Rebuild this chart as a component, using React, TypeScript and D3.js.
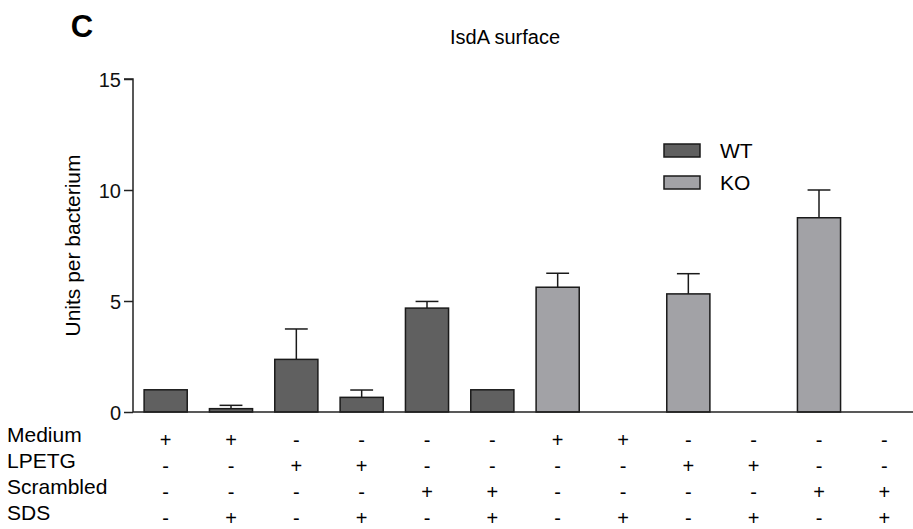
import React, { useRef, useEffect } from "react";
import { select, scaleLinear, scaleBand, axisLeft } from "d3";

const strains = ["WT", "WT", "WT", "WT", "WT", "WT", "KO", "KO", "KO", "KO", "KO", "KO"];
const means = [1.0, 0.15, 2.37, 0.66, 4.68, 1.0, 5.62, 0, 5.32, 0, 8.75, 0];
const sems = [0, 0.15, 1.37, 0.33, 0.3, 0, 0.63, 0, 0.91, 0, 1.25, 0];

const rowLabels = ["Medium", "LPETG", "Scrambled", "SDS"];
const medium = ["+", "+", "-", "-", "-", "-", "+", "+", "-", "-", "-", "-"];
const lpetg = ["-", "-", "+", "+", "-", "-", "-", "-", "+", "+", "-", "-"];
const scrambled = ["-", "-", "-", "-", "+", "+", "-", "-", "-", "-", "+", "+"];
const sds = ["-", "+", "-", "+", "-", "+", "-", "+", "-", "+", "-", "+"];

const yTicks = [0, 5, 10, 15];
const legendItems = ["WT", "KO"];

const colors = { WT: "#606060", KO: "#a2a2a6" };
const font = "'Liberation Sans', Arial, sans-serif";

function App() {
    const svgRef = useRef(null);

    useEffect(() => {
        const svg = select(svgRef.current);
        svg.selectAll("*").remove();

        const xScale = scaleBand()
            .domain(means.map((d, i) => i))
            .range([133, 917])
            .paddingInner(0.34)
            .paddingOuter(0.17);

        const yScale = scaleLinear().domain([0, 15]).range([412, 79]);

        const bars = means.map((m, i) => ({ i, m, e: sems[i], strain: strains[i] }));

        // title and panel letter
        svg.append("text")
            .attr("x", 82).attr("y", 37)
            .attr("text-anchor", "middle")
            .attr("font-family", font).attr("font-weight", "bold")
            .attr("font-size", 31)
            .text("C");

        svg.append("text")
            .attr("x", 505).attr("y", 44)
            .attr("text-anchor", "middle")
            .attr("font-family", font).attr("font-size", 20)
            .text("IsdA surface");

        // y axis
        const yAxis = axisLeft(yScale).tickValues(yTicks).tickSize(9).tickPadding(3);
        const gy = svg.append("g")
            .attr("transform", "translate(133,0)")
            .call(yAxis);
        gy.select(".domain").attr("stroke", "#222").attr("stroke-width", 1.5)
            .attr("d", `M-9,${yScale(15)}H0V${yScale(0)}`);
        gy.selectAll(".tick line").attr("stroke", "#222").attr("stroke-width", 1.5);
        gy.selectAll(".tick text")
            .attr("font-family", font).attr("font-size", 20).attr("fill", "#111")
            .attr("dy", "0.36em");

        svg.append("text")
            .attr("transform", `translate(80,${yScale(7.5)}) rotate(-90)`)
            .attr("text-anchor", "middle")
            .attr("font-family", font).attr("font-size", 21)
            .text("Units per bacterium");

        // bars
        svg.selectAll(".bar")
            .data(bars.filter(d => d.m > 0))
            .join("rect")
            .attr("class", "bar")
            .attr("x", d => xScale(d.i))
            .attr("y", d => yScale(d.m))
            .attr("width", xScale.bandwidth())
            .attr("height", d => yScale(0) - yScale(d.m))
            .attr("fill", d => colors[d.strain])
            .attr("stroke", "#1a1a1a")
            .attr("stroke-width", 1.5);

        // error bars (upper only)
        const capW = xScale.bandwidth() * 0.53;
        const err = svg.selectAll(".err")
            .data(bars.filter(d => d.e > 0))
            .join("g")
            .attr("class", "err")
            .attr("stroke", "#1a1a1a")
            .attr("stroke-width", 1.5);
        err.append("line")
            .attr("x1", d => xScale(d.i) + xScale.bandwidth() / 2)
            .attr("x2", d => xScale(d.i) + xScale.bandwidth() / 2)
            .attr("y1", d => yScale(d.m))
            .attr("y2", d => yScale(d.m + d.e));
        err.append("line")
            .attr("x1", d => xScale(d.i) + xScale.bandwidth() / 2 - capW / 2)
            .attr("x2", d => xScale(d.i) + xScale.bandwidth() / 2 + capW / 2)
            .attr("y1", d => yScale(d.m + d.e))
            .attr("y2", d => yScale(d.m + d.e));

        // x axis baseline
        svg.append("line")
            .attr("x1", 133).attr("x2", 913)
            .attr("y1", yScale(0)).attr("y2", yScale(0))
            .attr("stroke", "#222").attr("stroke-width", 1.5);

        // legend
        legendItems.forEach((name, i) => {
            const y = 144 + i * 32;
            svg.append("rect")
                .attr("x", 664).attr("y", y)
                .attr("width", 36).attr("height", 13)
                .attr("fill", colors[name])
                .attr("stroke", "#1a1a1a").attr("stroke-width", 1.5);
            svg.append("text")
                .attr("x", 720).attr("y", y + 14)
                .attr("font-family", font).attr("font-size", 21)
                .text(name);
        });

        // condition table
        const rows = [medium, lpetg, scrambled, sds];
        rows.forEach((row, r) => {
            const y = 442 + r * 26;
            svg.append("text")
                .attr("x", 7).attr("y", y)
                .attr("font-family", font).attr("font-size", 21)
                .text(rowLabels[r]);
            // +/- marks sit a little lower than the row labels
            svg.selectAll(`.mark-${r}`)
                .data(row)
                .join("text")
                .attr("class", `mark-${r}`)
                .attr("x", (d, i) => xScale(i) + xScale.bandwidth() / 2)
                .attr("y", y + 5)
                .attr("text-anchor", "middle")
                .attr("font-family", font).attr("font-size", 20)
                .text(d => d);
        });
    }, []);

    return (
        <svg ref={svgRef} width={913} height={529}
            style={{ position: "absolute", left: 0, top: 0, background: "#fff" }} />
    );
}

export default App;
